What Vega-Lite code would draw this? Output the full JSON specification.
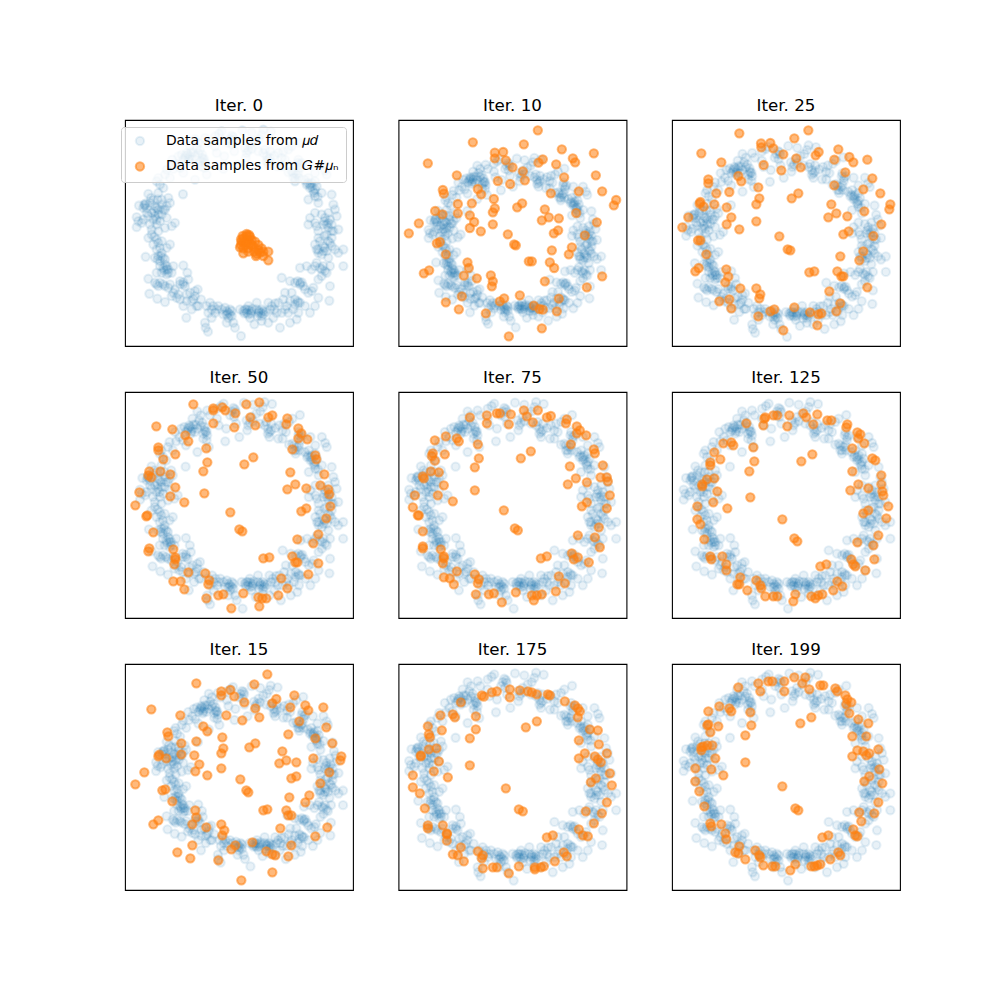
{"$schema":"https://vega.github.io/schema/vega-lite/v6.json","background":"white","padding":{"left":120,"top":97,"right":0,"bottom":0},"columns":3,"spacing":{"column":45.5,"row":46},"bounds":"flush","config":{"view":{"continuousWidth":228,"continuousHeight":226,"stroke":"black","strokeWidth":1.1},"font":"DejaVu Sans","title":{"fontSize":16.7,"fontWeight":"normal","font":"DejaVu Sans","offset":5,"color":"black"},"circle":{"size":69,"strokeWidth":2.08,"opacity":1,"clip":true},"legend":{"orient":"none","legendX":-4,"legendY":7,"title":null,"fillColor":"rgba(255,255,255,0.8)","strokeColor":"#cccccc","cornerRadius":3,"padding":7,"labelFont":"DejaVu Sans","labelFontSize":13.9,"labelColor":"black","labelLimit":400,"symbolSize":69,"symbolStrokeWidth":2.08,"symbolOffset":5,"labelOffset":19,"rowPadding":7.5,"zindex":1}},"datasets":{"mu_d":[{"x":382,"y":62},{"x":410,"y":68},{"x":445,"y":60},{"x":468,"y":66},{"x":440,"y":75},{"x":432,"y":88},{"x":320,"y":65},{"x":312,"y":72},{"x":300,"y":80},{"x":270,"y":85},{"x":278,"y":100},{"x":240,"y":88},{"x":250,"y":100},{"x":225,"y":110},{"x":355,"y":82},{"x":357,"y":90},{"x":352,"y":105},{"x":340,"y":100},{"x":405,"y":105},{"x":400,"y":122},{"x":390,"y":115},{"x":420,"y":95},{"x":450,"y":120},{"x":465,"y":125},{"x":460,"y":150},{"x":455,"y":140},{"x":445,"y":130},{"x":478,"y":138},{"x":490,"y":130},{"x":510,"y":150},{"x":500,"y":170},{"x":487,"y":170},{"x":460,"y":165},{"x":520,"y":120},{"x":530,"y":110},{"x":553,"y":99},{"x":392,"y":145},{"x":368,"y":165},{"x":358,"y":125},{"x":328,"y":140},{"x":325,"y":178},{"x":305,"y":130},{"x":300,"y":110},{"x":215,"y":130},{"x":225,"y":140},{"x":210,"y":145},{"x":235,"y":128},{"x":200,"y":135},{"x":190,"y":140},{"x":220,"y":155},{"x":172,"y":150},{"x":185,"y":165},{"x":195,"y":175},{"x":205,"y":190},{"x":175,"y":178},{"x":265,"y":150},{"x":270,"y":160},{"x":258,"y":170},{"x":250,"y":130},{"x":255,"y":122},{"x":262,"y":145},{"x":268,"y":175},{"x":240,"y":210},{"x":275,"y":195},{"x":155,"y":180},{"x":150,"y":195},{"x":130,"y":205},{"x":125,"y":215},{"x":135,"y":225},{"x":145,"y":235},{"x":165,"y":205},{"x":204,"y":254},{"x":130,"y":250},{"x":100,"y":253},{"x":108,"y":265},{"x":115,"y":272},{"x":90,"y":288},{"x":72,"y":288},{"x":88,"y":285},{"x":95,"y":295},{"x":128,"y":270},{"x":140,"y":285},{"x":150,"y":300},{"x":160,"y":265},{"x":165,"y":280},{"x":125,"y":295},{"x":110,"y":310},{"x":120,"y":320},{"x":140,"y":315},{"x":155,"y":325},{"x":100,"y":320},{"x":85,"y":330},{"x":65,"y":323},{"x":65,"y":353},{"x":80,"y":340},{"x":105,"y":345},{"x":125,"y":345},{"x":135,"y":335},{"x":150,"y":355},{"x":170,"y":350},{"x":180,"y":340},{"x":130,"y":365},{"x":110,"y":375},{"x":100,"y":385},{"x":125,"y":390},{"x":140,"y":395},{"x":165,"y":405},{"x":155,"y":415},{"x":135,"y":415},{"x":92,"y":442},{"x":125,"y":420},{"x":140,"y":430},{"x":130,"y":440},{"x":145,"y":445},{"x":120,"y":445},{"x":135,"y":455},{"x":150,"y":465},{"x":175,"y":470},{"x":205,"y":468},{"x":155,"y":480},{"x":160,"y":490},{"x":145,"y":475},{"x":140,"y":490},{"x":125,"y":490},{"x":217,"y":490},{"x":100,"y":508},{"x":125,"y":525},{"x":135,"y":520},{"x":150,"y":530},{"x":165,"y":525},{"x":195,"y":515},{"x":205,"y":518},{"x":220,"y":510},{"x":210,"y":530},{"x":180,"y":540},{"x":190,"y":555},{"x":103,"y":553},{"x":127,"y":568},{"x":150,"y":578},{"x":170,"y":560},{"x":195,"y":570},{"x":240,"y":545},{"x":248,"y":540},{"x":225,"y":550},{"x":215,"y":575},{"x":205,"y":590},{"x":214,"y":625},{"x":230,"y":600},{"x":245,"y":590},{"x":235,"y":570},{"x":258,"y":570},{"x":275,"y":590},{"x":285,"y":580},{"x":310,"y":590},{"x":300,"y":610},{"x":290,"y":625},{"x":320,"y":600},{"x":330,"y":595},{"x":335,"y":615},{"x":345,"y":600},{"x":340,"y":625},{"x":355,"y":640},{"x":335,"y":640},{"x":360,"y":655},{"x":272,"y":655},{"x":279,"y":667},{"x":270,"y":640},{"x":280,"y":610},{"x":378,"y":680},{"x":375,"y":600},{"x":385,"y":605},{"x":400,"y":590},{"x":395,"y":610},{"x":410,"y":605},{"x":405,"y":625},{"x":418,"y":645},{"x":430,"y":610},{"x":440,"y":600},{"x":445,"y":615},{"x":460,"y":580},{"x":440,"y":635},{"x":460,"y":640},{"x":475,"y":625},{"x":495,"y":655},{"x":485,"y":610},{"x":465,"y":600},{"x":425,"y":580},{"x":490,"y":580},{"x":515,"y":590},{"x":505,"y":570},{"x":525,"y":575},{"x":540,"y":570},{"x":550,"y":580},{"x":535,"y":600},{"x":550,"y":610},{"x":570,"y":590},{"x":545,"y":630},{"x":525,"y":640},{"x":500,"y":610},{"x":500,"y":505},{"x":525,"y":515},{"x":540,"y":520},{"x":555,"y":520},{"x":565,"y":530},{"x":580,"y":550},{"x":530,"y":550},{"x":510,"y":550},{"x":595,"y":535},{"x":610,"y":565},{"x":643,"y":574},{"x":600,"y":590},{"x":585,"y":610},{"x":645,"y":530},{"x":555,"y":475},{"x":575,"y":470},{"x":590,"y":480},{"x":615,"y":475},{"x":635,"y":490},{"x":685,"y":470},{"x":605,"y":460},{"x":620,"y":500},{"x":610,"y":510},{"x":625,"y":470},{"x":610,"y":430},{"x":605,"y":420},{"x":620,"y":435},{"x":635,"y":425},{"x":650,"y":410},{"x":660,"y":420},{"x":670,"y":430},{"x":685,"y":420},{"x":640,"y":445},{"x":645,"y":470},{"x":625,"y":410},{"x":615,"y":395},{"x":600,"y":405},{"x":640,"y":395},{"x":650,"y":385},{"x":635,"y":375},{"x":655,"y":365},{"x":670,"y":360},{"x":610,"y":365},{"x":625,"y":345},{"x":640,"y":340},{"x":650,"y":345},{"x":620,"y":315},{"x":630,"y":325},{"x":640,"y":310},{"x":660,"y":300},{"x":665,"y":320},{"x":655,"y":285},{"x":605,"y":350},{"x":600,"y":340},{"x":580,"y":345},{"x":585,"y":325},{"x":600,"y":310},{"x":610,"y":280},{"x":650,"y":255},{"x":600,"y":260},{"x":595,"y":245},{"x":585,"y":235},{"x":575,"y":225},{"x":590,"y":220},{"x":605,"y":230},{"x":620,"y":250},{"x":580,"y":270},{"x":540,"y":215},{"x":535,"y":205},{"x":550,"y":190},{"x":555,"y":175},{"x":560,"y":160},{"x":550,"y":150},{"x":530,"y":185},{"x":520,"y":188},{"x":635,"y":195},{"x":630,"y":183},{"x":600,"y":190},{"x":620,"y":165},{"x":585,"y":165},{"x":580,"y":205},{"x":568,"y":210},{"x":600,"y":215},{"x":218,"y":135},{"x":228,"y":128},{"x":212,"y":138},{"x":222,"y":148},{"x":232,"y":150},{"x":205,"y":150},{"x":240,"y":140},{"x":245,"y":115},{"x":262,"y":135},{"x":268,"y":148},{"x":258,"y":155},{"x":345,"y":88},{"x":350,"y":78},{"x":410,"y":118},{"x":395,"y":130},{"x":455,"y":155},{"x":465,"y":145},{"x":430,"y":125},{"x":500,"y":145},{"x":505,"y":125},{"x":92,"y":282},{"x":85,"y":295},{"x":105,"y":280},{"x":120,"y":290},{"x":130,"y":300},{"x":118,"y":305},{"x":130,"y":315},{"x":145,"y":300},{"x":115,"y":330},{"x":125,"y":330},{"x":140,"y":270},{"x":155,"y":290},{"x":95,"y":310},{"x":70,"y":335},{"x":110,"y":360},{"x":118,"y":382},{"x":130,"y":400},{"x":115,"y":405},{"x":138,"y":440},{"x":150,"y":450},{"x":128,"y":450},{"x":155,"y":470},{"x":148,"y":482},{"x":160,"y":480},{"x":155,"y":495},{"x":170,"y":490},{"x":135,"y":470},{"x":130,"y":530},{"x":120,"y":520},{"x":145,"y":525},{"x":160,"y":535},{"x":195,"y":525},{"x":205,"y":525},{"x":175,"y":550},{"x":185,"y":565},{"x":215,"y":555},{"x":240,"y":560},{"x":230,"y":575},{"x":250,"y":590},{"x":290,"y":600},{"x":295,"y":590},{"x":305,"y":600},{"x":340,"y":610},{"x":345,"y":615},{"x":350,"y":620},{"x":335,"y":605},{"x":325,"y":615},{"x":350,"y":605},{"x":390,"y":600},{"x":395,"y":600},{"x":402,"y":602},{"x":408,"y":612},{"x":412,"y":598},{"x":400,"y":615},{"x":388,"y":612},{"x":425,"y":600},{"x":432,"y":605},{"x":438,"y":610},{"x":445,"y":605},{"x":452,"y":608},{"x":440,"y":620},{"x":428,"y":620},{"x":470,"y":590},{"x":478,"y":600},{"x":480,"y":582},{"x":510,"y":600},{"x":520,"y":610},{"x":540,"y":585},{"x":548,"y":575},{"x":555,"y":580},{"x":555,"y":525},{"x":560,"y":518},{"x":548,"y":515},{"x":570,"y":540},{"x":590,"y":545},{"x":600,"y":470},{"x":630,"y":485},{"x":620,"y":480},{"x":610,"y":420},{"x":625,"y":425},{"x":630,"y":415},{"x":645,"y":400},{"x":628,"y":380},{"x":640,"y":355},{"x":635,"y":345},{"x":645,"y":330},{"x":628,"y":335},{"x":650,"y":365},{"x":610,"y":385},{"x":578,"y":220},{"x":585,"y":225},{"x":590,"y":232},{"x":600,"y":240},{"x":598,"y":250},{"x":608,"y":262},{"x":545,"y":195},{"x":552,"y":205},{"x":548,"y":160},{"x":555,"y":165},{"x":535,"y":190},{"x":540,"y":205}],"iter0":[{"x":395,"y":378},{"x":385,"y":385},{"x":405,"y":380},{"x":380,"y":395},{"x":395,"y":395},{"x":410,"y":390},{"x":378,"y":405},{"x":390,"y":405},{"x":405,"y":400},{"x":420,"y":395},{"x":430,"y":405},{"x":415,"y":410},{"x":400,"y":415},{"x":385,"y":415},{"x":430,"y":420},{"x":440,"y":415},{"x":445,"y":425},{"x":385,"y":430},{"x":400,"y":425},{"x":425,"y":432},{"x":460,"y":425},{"x":423,"y":438},{"x":445,"y":438},{"x":460,"y":451},{"x":410,"y":405},{"x":398,"y":388},{"x":388,"y":398},{"x":375,"y":412},{"x":435,"y":428},{"x":418,"y":425},{"x":395,"y":372},{"x":402,"y":375},{"x":383,"y":378},{"x":378,"y":388}],"iter10":[{"x":448,"y":61},{"x":253,"y":97},{"x":406,"y":103},{"x":520,"y":118},{"x":319,"y":128},{"x":344,"y":126},{"x":319,"y":145},{"x":553,"y":145},{"x":616,"y":130},{"x":118,"y":160},{"x":352,"y":151},{"x":463,"y":148},{"x":450,"y":158},{"x":560,"y":157},{"x":503,"y":163},{"x":372,"y":172},{"x":403,"y":184},{"x":205,"y":196},{"x":622,"y":196},{"x":527,"y":202},{"x":328,"y":213},{"x":409,"y":211},{"x":365,"y":222},{"x":163,"y":240},{"x":166,"y":251},{"x":268,"y":237},{"x":278,"y":253},{"x":571,"y":244},{"x":641,"y":244},{"x":487,"y":250},{"x":316,"y":267},{"x":683,"y":270},{"x":676,"y":286},{"x":208,"y":282},{"x":250,"y":280},{"x":401,"y":280},{"x":386,"y":292},{"x":319,"y":295},{"x":313,"y":307},{"x":469,"y":298},{"x":140,"y":303},{"x":208,"y":310},{"x":162,"y":313},{"x":563,"y":309},{"x":244,"y":316},{"x":257,"y":336},{"x":481,"y":322},{"x":511,"y":325},{"x":460,"y":331},{"x":625,"y":337},{"x":91,"y":340},{"x":313,"y":343},{"x":244,"y":354},{"x":277,"y":364},{"x":509,"y":361},{"x":496,"y":370},{"x":61,"y":370},{"x":358,"y":373},{"x":589,"y":376},{"x":154,"y":396},{"x":145,"y":400},{"x":377,"y":403},{"x":382,"y":406},{"x":550,"y":412},{"x":490,"y":421},{"x":541,"y":433},{"x":172,"y":433},{"x":421,"y":454},{"x":430,"y":454},{"x":484,"y":457},{"x":237,"y":457},{"x":241,"y":474},{"x":497,"y":474},{"x":122,"y":481},{"x":106,"y":490},{"x":307,"y":496},{"x":226,"y":497},{"x":641,"y":499},{"x":265,"y":505},{"x":313,"y":514},{"x":469,"y":514},{"x":310,"y":529},{"x":595,"y":532},{"x":394,"y":556},{"x":220,"y":559},{"x":347,"y":565},{"x":511,"y":566},{"x":334,"y":574},{"x":172,"y":577},{"x":436,"y":587},{"x":211,"y":598},{"x":453,"y":597},{"x":463,"y":599},{"x":505,"y":604},{"x":292,"y":610},{"x":460,"y":655},{"x":361,"y":679}],"iter25":[{"x":439,"y":61},{"x":232,"y":70},{"x":397,"y":85},{"x":297,"y":100},{"x":325,"y":99},{"x":298,"y":112},{"x":334,"y":115},{"x":529,"y":118},{"x":118,"y":130},{"x":470,"y":126},{"x":461,"y":136},{"x":364,"y":133},{"x":403,"y":145},{"x":562,"y":141},{"x":517,"y":149},{"x":616,"y":149},{"x":574,"y":157},{"x":178,"y":157},{"x":305,"y":165},{"x":416,"y":172},{"x":358,"y":181},{"x":550,"y":187},{"x":229,"y":198},{"x":139,"y":208},{"x":631,"y":205},{"x":238,"y":214},{"x":139,"y":220},{"x":517,"y":226},{"x":289,"y":232},{"x":604,"y":238},{"x":202,"y":246},{"x":163,"y":250},{"x":409,"y":250},{"x":655,"y":250},{"x":389,"y":265},{"x":292,"y":265},{"x":283,"y":283},{"x":115,"y":276},{"x":113,"y":281},{"x":125,"y":290},{"x":157,"y":283},{"x":194,"y":292},{"x":508,"y":283},{"x":685,"y":283},{"x":682,"y":298},{"x":607,"y":304},{"x":523,"y":310},{"x":556,"y":319},{"x":499,"y":322},{"x":79,"y":322},{"x":208,"y":322},{"x":283,"y":334},{"x":194,"y":343},{"x":658,"y":343},{"x":61,"y":352},{"x":232,"y":358},{"x":560,"y":364},{"x":544,"y":373},{"x":634,"y":378},{"x":352,"y":379},{"x":108,"y":391},{"x":115,"y":391},{"x":377,"y":418},{"x":385,"y":421},{"x":604,"y":424},{"x":133,"y":433},{"x":535,"y":439},{"x":592,"y":451},{"x":110,"y":474},{"x":100,"y":484},{"x":193,"y":478},{"x":442,"y":487},{"x":457,"y":484},{"x":526,"y":484},{"x":199,"y":500},{"x":538,"y":499},{"x":544,"y":499},{"x":190,"y":517},{"x":616,"y":532},{"x":235,"y":535},{"x":283,"y":535},{"x":502,"y":544},{"x":295,"y":553},{"x":292,"y":565},{"x":172,"y":574},{"x":202,"y":568},{"x":535,"y":580},{"x":208,"y":595},{"x":397,"y":592},{"x":337,"y":598},{"x":325,"y":604},{"x":444,"y":607},{"x":523,"y":604},{"x":478,"y":610},{"x":469,"y":613},{"x":289,"y":619},{"x":466,"y":646},{"x":364,"y":661}],"iter50":[{"x":433,"y":61},{"x":235,"y":67},{"x":394,"y":67},{"x":322,"y":76},{"x":295,"y":79},{"x":295,"y":85},{"x":331,"y":85},{"x":361,"y":94},{"x":406,"y":106},{"x":472,"y":100},{"x":460,"y":106},{"x":517,"y":109},{"x":124,"y":133},{"x":514,"y":127},{"x":295,"y":124},{"x":358,"y":136},{"x":421,"y":130},{"x":172,"y":142},{"x":550,"y":139},{"x":559,"y":154},{"x":211,"y":160},{"x":220,"y":178},{"x":550,"y":169},{"x":577,"y":172},{"x":130,"y":196},{"x":130,"y":205},{"x":274,"y":199},{"x":532,"y":202},{"x":181,"y":217},{"x":601,"y":220},{"x":604,"y":232},{"x":145,"y":232},{"x":415,"y":226},{"x":277,"y":241},{"x":388,"y":247},{"x":265,"y":268},{"x":526,"y":271},{"x":136,"y":268},{"x":103,"y":268},{"x":100,"y":280},{"x":109,"y":286},{"x":166,"y":277},{"x":628,"y":277},{"x":541,"y":307},{"x":616,"y":310},{"x":574,"y":319},{"x":517,"y":322},{"x":181,"y":316},{"x":640,"y":322},{"x":643,"y":337},{"x":73,"y":331},{"x":268,"y":334},{"x":166,"y":343},{"x":208,"y":361},{"x":61,"y":370},{"x":646,"y":373},{"x":574,"y":379},{"x":559,"y":388},{"x":346,"y":391},{"x":97,"y":400},{"x":94,"y":403},{"x":634,"y":409},{"x":373,"y":442},{"x":382,"y":448},{"x":115,"y":451},{"x":610,"y":457},{"x":547,"y":472},{"x":595,"y":484},{"x":103,"y":499},{"x":100,"y":508},{"x":175,"y":502},{"x":181,"y":526},{"x":181,"y":532},{"x":463,"y":526},{"x":445,"y":529},{"x":532,"y":523},{"x":547,"y":541},{"x":541,"y":541},{"x":178,"y":547},{"x":610,"y":544},{"x":220,"y":571},{"x":271,"y":574},{"x":580,"y":577},{"x":499,"y":589},{"x":175,"y":598},{"x":197,"y":598},{"x":283,"y":595},{"x":280,"y":607},{"x":208,"y":622},{"x":517,"y":619},{"x":385,"y":634},{"x":325,"y":637},{"x":310,"y":640},{"x":490,"y":640},{"x":430,"y":646},{"x":442,"y":649},{"x":454,"y":649},{"x":274,"y":649},{"x":433,"y":673},{"x":349,"y":679}],"iter75":[{"x":448,"y":85},{"x":406,"y":85},{"x":367,"y":97},{"x":325,"y":94},{"x":334,"y":94},{"x":295,"y":100},{"x":295,"y":124},{"x":244,"y":106},{"x":415,"y":103},{"x":487,"y":102},{"x":475,"y":106},{"x":535,"y":112},{"x":433,"y":121},{"x":532,"y":124},{"x":361,"y":127},{"x":565,"y":133},{"x":574,"y":145},{"x":565,"y":154},{"x":172,"y":163},{"x":139,"y":175},{"x":205,"y":169},{"x":211,"y":178},{"x":593,"y":160},{"x":268,"y":187},{"x":547,"y":187},{"x":616,"y":202},{"x":619,"y":214},{"x":427,"y":208},{"x":133,"y":214},{"x":130,"y":222},{"x":169,"y":217},{"x":139,"y":236},{"x":271,"y":229},{"x":397,"y":229},{"x":643,"y":250},{"x":544,"y":253},{"x":259,"y":256},{"x":127,"y":268},{"x":151,"y":271},{"x":103,"y":283},{"x":106,"y":289},{"x":636,"y":286},{"x":655,"y":286},{"x":562,"y":289},{"x":658,"y":298},{"x":595,"y":301},{"x":538,"y":307},{"x":166,"y":310},{"x":259,"y":325},{"x":79,"y":340},{"x":148,"y":340},{"x":664,"y":340},{"x":193,"y":358},{"x":595,"y":361},{"x":580,"y":373},{"x":73,"y":376},{"x":655,"y":379},{"x":346,"y":385},{"x":88,"y":400},{"x":91,"y":400},{"x":631,"y":436},{"x":379,"y":439},{"x":388,"y":445},{"x":103,"y":448},{"x":568,"y":460},{"x":619,"y":466},{"x":103,"y":493},{"x":103,"y":499},{"x":157,"y":502},{"x":634,"y":496},{"x":166,"y":523},{"x":166,"y":529},{"x":550,"y":514},{"x":475,"y":523},{"x":457,"y":529},{"x":556,"y":532},{"x":568,"y":526},{"x":163,"y":544},{"x":601,"y":541},{"x":205,"y":568},{"x":259,"y":577},{"x":166,"y":586},{"x":184,"y":589},{"x":511,"y":583},{"x":271,"y":592},{"x":268,"y":604},{"x":196,"y":607},{"x":529,"y":604},{"x":382,"y":631},{"x":502,"y":628},{"x":316,"y":634},{"x":301,"y":637},{"x":262,"y":637},{"x":460,"y":637},{"x":430,"y":640},{"x":445,"y":640},{"x":436,"y":655},{"x":340,"y":661}],"iter125":[{"x":424,"y":94},{"x":466,"y":97},{"x":382,"y":100},{"x":334,"y":100},{"x":346,"y":100},{"x":310,"y":106},{"x":307,"y":110},{"x":433,"y":106},{"x":496,"y":115},{"x":508,"y":115},{"x":253,"y":124},{"x":304,"y":130},{"x":454,"y":127},{"x":376,"y":133},{"x":556,"y":127},{"x":553,"y":136},{"x":586,"y":151},{"x":595,"y":157},{"x":589,"y":169},{"x":184,"y":184},{"x":208,"y":181},{"x":214,"y":190},{"x":607,"y":184},{"x":571,"y":199},{"x":157,"y":211},{"x":451,"y":217},{"x":631,"y":229},{"x":640,"y":235},{"x":175,"y":232},{"x":145,"y":241},{"x":145,"y":250},{"x":418,"y":238},{"x":277,"y":238},{"x":274,"y":196},{"x":262,"y":268},{"x":571,"y":268},{"x":658,"y":280},{"x":157,"y":289},{"x":135,"y":292},{"x":658,"y":307},{"x":121,"y":307},{"x":121,"y":313},{"x":589,"y":307},{"x":166,"y":328},{"x":619,"y":319},{"x":565,"y":325},{"x":661,"y":328},{"x":664,"y":340},{"x":265,"y":346},{"x":154,"y":361},{"x":106,"y":373},{"x":679,"y":373},{"x":196,"y":379},{"x":619,"y":385},{"x":604,"y":394},{"x":106,"y":412},{"x":361,"y":412},{"x":673,"y":409},{"x":115,"y":427},{"x":397,"y":469},{"x":406,"y":478},{"x":127,"y":472},{"x":649,"y":460},{"x":586,"y":481},{"x":634,"y":490},{"x":145,"y":523},{"x":148,"y":532},{"x":181,"y":523},{"x":568,"y":532},{"x":637,"y":532},{"x":193,"y":547},{"x":193,"y":565},{"x":475,"y":553},{"x":493,"y":547},{"x":574,"y":547},{"x":580,"y":553},{"x":610,"y":565},{"x":235,"y":586},{"x":283,"y":595},{"x":526,"y":598},{"x":226,"y":607},{"x":232,"y":607},{"x":295,"y":610},{"x":298,"y":619},{"x":541,"y":613},{"x":256,"y":625},{"x":514,"y":625},{"x":400,"y":637},{"x":310,"y":643},{"x":334,"y":643},{"x":346,"y":643},{"x":448,"y":643},{"x":460,"y":649},{"x":469,"y":640},{"x":481,"y":637},{"x":394,"y":658}],"iter15":[{"x":457,"y":61},{"x":244,"y":88},{"x":418,"y":91},{"x":346,"y":108},{"x":319,"y":112},{"x":319,"y":124},{"x":358,"y":127},{"x":538,"y":124},{"x":484,"y":135},{"x":472,"y":148},{"x":388,"y":145},{"x":109,"y":166},{"x":421,"y":163},{"x":526,"y":160},{"x":571,"y":154},{"x":625,"y":160},{"x":580,"y":169},{"x":196,"y":184},{"x":334,"y":184},{"x":433,"y":190},{"x":382,"y":199},{"x":553,"y":202},{"x":265,"y":217},{"x":634,"y":220},{"x":277,"y":232},{"x":157,"y":235},{"x":160,"y":247},{"x":520,"y":241},{"x":322,"y":250},{"x":601,"y":253},{"x":199,"y":268},{"x":244,"y":262},{"x":652,"y":268},{"x":421,"y":268},{"x":403,"y":280},{"x":325,"y":283},{"x":319,"y":298},{"x":238,"y":304},{"x":133,"y":302},{"x":130,"y":307},{"x":154,"y":313},{"x":199,"y":301},{"x":502,"y":292},{"x":679,"y":307},{"x":676,"y":319},{"x":595,"y":313},{"x":514,"y":319},{"x":544,"y":325},{"x":493,"y":328},{"x":253,"y":331},{"x":319,"y":343},{"x":241,"y":352},{"x":88,"y":355},{"x":643,"y":355},{"x":277,"y":364},{"x":544,"y":367},{"x":529,"y":373},{"x":376,"y":376},{"x":616,"y":388},{"x":61,"y":391},{"x":151,"y":406},{"x":142,"y":409},{"x":394,"y":409},{"x":400,"y":415},{"x":583,"y":424},{"x":523,"y":430},{"x":571,"y":445},{"x":172,"y":442},{"x":457,"y":466},{"x":445,"y":469},{"x":241,"y":469},{"x":514,"y":469},{"x":244,"y":490},{"x":520,"y":484},{"x":529,"y":484},{"x":130,"y":499},{"x":115,"y":511},{"x":232,"y":511},{"x":319,"y":511},{"x":274,"y":520},{"x":328,"y":529},{"x":496,"y":523},{"x":637,"y":520},{"x":322,"y":544},{"x":601,"y":547},{"x":412,"y":565},{"x":232,"y":574},{"x":529,"y":574},{"x":361,"y":574},{"x":349,"y":586},{"x":187,"y":595},{"x":454,"y":592},{"x":472,"y":601},{"x":481,"y":604},{"x":520,"y":607},{"x":226,"y":613},{"x":310,"y":619},{"x":472,"y":655},{"x":379,"y":679}],"iter175":[{"x":364,"y":106},{"x":394,"y":109},{"x":418,"y":112},{"x":430,"y":115},{"x":325,"y":112},{"x":310,"y":115},{"x":280,"y":124},{"x":286,"y":128},{"x":445,"y":121},{"x":478,"y":121},{"x":484,"y":124},{"x":364,"y":130},{"x":529,"y":142},{"x":217,"y":145},{"x":559,"y":154},{"x":568,"y":163},{"x":574,"y":172},{"x":568,"y":190},{"x":156,"y":184},{"x":193,"y":181},{"x":199,"y":190},{"x":262,"y":187},{"x":445,"y":202},{"x":412,"y":220},{"x":604,"y":226},{"x":628,"y":229},{"x":118,"y":217},{"x":262,"y":226},{"x":160,"y":229},{"x":121,"y":241},{"x":124,"y":250},{"x":244,"y":253},{"x":571,"y":259},{"x":631,"y":271},{"x":144,"y":283},{"x":121,"y":286},{"x":97,"y":304},{"x":97,"y":307},{"x":589,"y":298},{"x":655,"y":298},{"x":619,"y":307},{"x":571,"y":313},{"x":628,"y":316},{"x":637,"y":325},{"x":151,"y":322},{"x":244,"y":334},{"x":136,"y":352},{"x":664,"y":358},{"x":73,"y":364},{"x":178,"y":370},{"x":622,"y":373},{"x":607,"y":385},{"x":670,"y":394},{"x":352,"y":403},{"x":73,"y":400},{"x":94,"y":418},{"x":655,"y":445},{"x":391,"y":466},{"x":403,"y":472},{"x":109,"y":463},{"x":592,"y":472},{"x":640,"y":478},{"x":616,"y":508},{"x":118,"y":514},{"x":118,"y":523},{"x":163,"y":514},{"x":571,"y":526},{"x":175,"y":538},{"x":175,"y":541},{"x":583,"y":544},{"x":598,"y":547},{"x":493,"y":544},{"x":475,"y":550},{"x":175,"y":560},{"x":217,"y":580},{"x":268,"y":592},{"x":526,"y":595},{"x":193,"y":601},{"x":208,"y":604},{"x":535,"y":607},{"x":283,"y":604},{"x":280,"y":613},{"x":226,"y":622},{"x":499,"y":622},{"x":391,"y":637},{"x":283,"y":643},{"x":313,"y":640},{"x":325,"y":640},{"x":439,"y":640},{"x":466,"y":637},{"x":457,"y":640},{"x":439,"y":646},{"x":361,"y":658}],"iter199":[{"x":397,"y":70},{"x":430,"y":70},{"x":319,"y":82},{"x":331,"y":82},{"x":367,"y":82},{"x":289,"y":88},{"x":421,"y":88},{"x":475,"y":94},{"x":484,"y":94},{"x":229,"y":100},{"x":442,"y":106},{"x":520,"y":103},{"x":295,"y":112},{"x":367,"y":112},{"x":526,"y":112},{"x":550,"y":124},{"x":556,"y":136},{"x":568,"y":145},{"x":553,"y":151},{"x":172,"y":157},{"x":139,"y":172},{"x":202,"y":163},{"x":208,"y":172},{"x":265,"y":175},{"x":562,"y":178},{"x":448,"y":190},{"x":589,"y":196},{"x":415,"y":208},{"x":619,"y":208},{"x":136,"y":214},{"x":139,"y":211},{"x":169,"y":217},{"x":268,"y":214},{"x":145,"y":235},{"x":250,"y":244},{"x":571,"y":247},{"x":613,"y":247},{"x":151,"y":274},{"x":136,"y":274},{"x":118,"y":280},{"x":118,"y":289},{"x":124,"y":277},{"x":649,"y":286},{"x":586,"y":289},{"x":604,"y":292},{"x":622,"y":298},{"x":613,"y":304},{"x":571,"y":307},{"x":160,"y":313},{"x":250,"y":325},{"x":100,"y":343},{"x":148,"y":346},{"x":652,"y":346},{"x":184,"y":364},{"x":622,"y":367},{"x":607,"y":382},{"x":100,"y":382},{"x":661,"y":388},{"x":361,"y":397},{"x":112,"y":412},{"x":649,"y":445},{"x":127,"y":457},{"x":400,"y":463},{"x":409,"y":469},{"x":592,"y":475},{"x":637,"y":478},{"x":598,"y":502},{"x":145,"y":508},{"x":148,"y":517},{"x":178,"y":511},{"x":574,"y":526},{"x":190,"y":538},{"x":580,"y":544},{"x":586,"y":547},{"x":499,"y":544},{"x":481,"y":550},{"x":193,"y":556},{"x":232,"y":577},{"x":280,"y":589},{"x":529,"y":595},{"x":220,"y":595},{"x":229,"y":598},{"x":292,"y":604},{"x":295,"y":610},{"x":535,"y":604},{"x":250,"y":616},{"x":505,"y":616},{"x":304,"y":634},{"x":400,"y":631},{"x":331,"y":637},{"x":340,"y":637},{"x":448,"y":637},{"x":457,"y":637},{"x":466,"y":634},{"x":475,"y":631},{"x":385,"y":649}]},"concat":[
{"title":"Iter. 0","resolve":{"scale":{"x":"independent","y":"independent"}},"layer":[{"data":{"name":"mu_d"},"mark":"circle","encoding":{"x":{"field":"x","type":"quantitative","axis":null,"scale":{"domain":[30,714],"nice":false,"zero":false}},"y":{"field":"y","type":"quantitative","axis":null,"scale":{"domain":[710,31],"nice":false,"zero":false}},"fill":{"datum":"Data samples from 𝜇𝑑","scale":{"domain":["Data samples from 𝜇𝑑","Data samples from 𝐺#𝜇ₙ"],"range":["rgba(31,119,180,0.1)","rgba(255,127,14,0.55)"]}},"stroke":{"datum":"Data samples from 𝜇𝑑","scale":{"domain":["Data samples from 𝜇𝑑","Data samples from 𝐺#𝜇ₙ"],"range":["rgba(31,119,180,0.1)","rgba(255,127,14,0.55)"]}}}},{"data":{"name":"iter0"},"mark":"circle","encoding":{"x":{"field":"x","type":"quantitative","axis":null,"scale":{"domain":[30,714],"nice":false,"zero":false}},"y":{"field":"y","type":"quantitative","axis":null,"scale":{"domain":[708,30],"nice":false,"zero":false}},"fill":{"datum":"Data samples from 𝐺#𝜇ₙ","scale":{"domain":["Data samples from 𝜇𝑑","Data samples from 𝐺#𝜇ₙ"],"range":["rgba(31,119,180,0.1)","rgba(255,127,14,0.55)"]}},"stroke":{"datum":"Data samples from 𝐺#𝜇ₙ","scale":{"domain":["Data samples from 𝜇𝑑","Data samples from 𝐺#𝜇ₙ"],"range":["rgba(31,119,180,0.1)","rgba(255,127,14,0.55)"]}}}}]},
{"title":"Iter. 10","resolve":{"scale":{"x":"independent","y":"independent"}},"layer":[{"data":{"name":"mu_d"},"mark":"circle","encoding":{"x":{"field":"x","type":"quantitative","axis":null,"scale":{"domain":[-43,776],"nice":false,"zero":false}},"y":{"field":"y","type":"quantitative","axis":null,"scale":{"domain":[748,-79],"nice":false,"zero":false}},"fill":{"datum":"Data samples from 𝜇𝑑","scale":{"domain":["Data samples from 𝜇𝑑","Data samples from 𝐺#𝜇ₙ"],"range":["rgba(31,119,180,0.1)","rgba(255,127,14,0.55)"]}},"stroke":{"datum":"Data samples from 𝜇𝑑","scale":{"domain":["Data samples from 𝜇𝑑","Data samples from 𝐺#𝜇ₙ"],"range":["rgba(31,119,180,0.1)","rgba(255,127,14,0.55)"]}}}},{"data":{"name":"iter10"},"mark":"circle","encoding":{"x":{"field":"x","type":"quantitative","axis":null,"scale":{"domain":[30,714],"nice":false,"zero":false}},"y":{"field":"y","type":"quantitative","axis":null,"scale":{"domain":[708,30],"nice":false,"zero":false}},"fill":{"datum":"Data samples from 𝐺#𝜇ₙ","scale":{"domain":["Data samples from 𝜇𝑑","Data samples from 𝐺#𝜇ₙ"],"range":["rgba(31,119,180,0.1)","rgba(255,127,14,0.55)"]}},"stroke":{"datum":"Data samples from 𝐺#𝜇ₙ","scale":{"domain":["Data samples from 𝜇𝑑","Data samples from 𝐺#𝜇ₙ"],"range":["rgba(31,119,180,0.1)","rgba(255,127,14,0.55)"]}}}}]},
{"title":"Iter. 25","resolve":{"scale":{"x":"independent","y":"independent"}},"layer":[{"data":{"name":"mu_d"},"mark":"circle","encoding":{"x":{"field":"x","type":"quantitative","axis":null,"scale":{"domain":[21,729],"nice":false,"zero":false}},"y":{"field":"y","type":"quantitative","axis":null,"scale":{"domain":[710,-22],"nice":false,"zero":false}},"fill":{"datum":"Data samples from 𝜇𝑑","scale":{"domain":["Data samples from 𝜇𝑑","Data samples from 𝐺#𝜇ₙ"],"range":["rgba(31,119,180,0.1)","rgba(255,127,14,0.55)"]}},"stroke":{"datum":"Data samples from 𝜇𝑑","scale":{"domain":["Data samples from 𝜇𝑑","Data samples from 𝐺#𝜇ₙ"],"range":["rgba(31,119,180,0.1)","rgba(255,127,14,0.55)"]}}}},{"data":{"name":"iter25"},"mark":"circle","encoding":{"x":{"field":"x","type":"quantitative","axis":null,"scale":{"domain":[30,714],"nice":false,"zero":false}},"y":{"field":"y","type":"quantitative","axis":null,"scale":{"domain":[708,30],"nice":false,"zero":false}},"fill":{"datum":"Data samples from 𝐺#𝜇ₙ","scale":{"domain":["Data samples from 𝜇𝑑","Data samples from 𝐺#𝜇ₙ"],"range":["rgba(31,119,180,0.1)","rgba(255,127,14,0.55)"]}},"stroke":{"datum":"Data samples from 𝐺#𝜇ₙ","scale":{"domain":["Data samples from 𝜇𝑑","Data samples from 𝐺#𝜇ₙ"],"range":["rgba(31,119,180,0.1)","rgba(255,127,14,0.55)"]}}}}]},
{"title":"Iter. 50","resolve":{"scale":{"x":"independent","y":"independent"}},"layer":[{"data":{"name":"mu_d"},"mark":"circle","encoding":{"x":{"field":"x","type":"quantitative","axis":null,"scale":{"domain":[19,715],"nice":false,"zero":false}},"y":{"field":"y","type":"quantitative","axis":null,"scale":{"domain":[708,30],"nice":false,"zero":false}},"fill":{"datum":"Data samples from 𝜇𝑑","scale":{"domain":["Data samples from 𝜇𝑑","Data samples from 𝐺#𝜇ₙ"],"range":["rgba(31,119,180,0.1)","rgba(255,127,14,0.55)"]}},"stroke":{"datum":"Data samples from 𝜇𝑑","scale":{"domain":["Data samples from 𝜇𝑑","Data samples from 𝐺#𝜇ₙ"],"range":["rgba(31,119,180,0.1)","rgba(255,127,14,0.55)"]}}}},{"data":{"name":"iter50"},"mark":"circle","encoding":{"x":{"field":"x","type":"quantitative","axis":null,"scale":{"domain":[30,714],"nice":false,"zero":false}},"y":{"field":"y","type":"quantitative","axis":null,"scale":{"domain":[708,30],"nice":false,"zero":false}},"fill":{"datum":"Data samples from 𝐺#𝜇ₙ","scale":{"domain":["Data samples from 𝜇𝑑","Data samples from 𝐺#𝜇ₙ"],"range":["rgba(31,119,180,0.1)","rgba(255,127,14,0.55)"]}},"stroke":{"datum":"Data samples from 𝐺#𝜇ₙ","scale":{"domain":["Data samples from 𝜇𝑑","Data samples from 𝐺#𝜇ₙ"],"range":["rgba(31,119,180,0.1)","rgba(255,127,14,0.55)"]}}}}]},
{"title":"Iter. 75","resolve":{"scale":{"x":"independent","y":"independent"}},"layer":[{"data":{"name":"mu_d"},"mark":"circle","encoding":{"x":{"field":"x","type":"quantitative","axis":null,"scale":{"domain":[33,716],"nice":false,"zero":false}},"y":{"field":"y","type":"quantitative","axis":null,"scale":{"domain":[708,30],"nice":false,"zero":false}},"fill":{"datum":"Data samples from 𝜇𝑑","scale":{"domain":["Data samples from 𝜇𝑑","Data samples from 𝐺#𝜇ₙ"],"range":["rgba(31,119,180,0.1)","rgba(255,127,14,0.55)"]}},"stroke":{"datum":"Data samples from 𝜇𝑑","scale":{"domain":["Data samples from 𝜇𝑑","Data samples from 𝐺#𝜇ₙ"],"range":["rgba(31,119,180,0.1)","rgba(255,127,14,0.55)"]}}}},{"data":{"name":"iter75"},"mark":"circle","encoding":{"x":{"field":"x","type":"quantitative","axis":null,"scale":{"domain":[30,714],"nice":false,"zero":false}},"y":{"field":"y","type":"quantitative","axis":null,"scale":{"domain":[708,30],"nice":false,"zero":false}},"fill":{"datum":"Data samples from 𝐺#𝜇ₙ","scale":{"domain":["Data samples from 𝜇𝑑","Data samples from 𝐺#𝜇ₙ"],"range":["rgba(31,119,180,0.1)","rgba(255,127,14,0.55)"]}},"stroke":{"datum":"Data samples from 𝐺#𝜇ₙ","scale":{"domain":["Data samples from 𝜇𝑑","Data samples from 𝐺#𝜇ₙ"],"range":["rgba(31,119,180,0.1)","rgba(255,127,14,0.55)"]}}}}]},
{"title":"Iter. 125","resolve":{"scale":{"x":"independent","y":"independent"}},"layer":[{"data":{"name":"mu_d"},"mark":"circle","encoding":{"x":{"field":"x","type":"quantitative","axis":null,"scale":{"domain":[30,714],"nice":false,"zero":false}},"y":{"field":"y","type":"quantitative","axis":null,"scale":{"domain":[708,30],"nice":false,"zero":false}},"fill":{"datum":"Data samples from 𝜇𝑑","scale":{"domain":["Data samples from 𝜇𝑑","Data samples from 𝐺#𝜇ₙ"],"range":["rgba(31,119,180,0.1)","rgba(255,127,14,0.55)"]}},"stroke":{"datum":"Data samples from 𝜇𝑑","scale":{"domain":["Data samples from 𝜇𝑑","Data samples from 𝐺#𝜇ₙ"],"range":["rgba(31,119,180,0.1)","rgba(255,127,14,0.55)"]}}}},{"data":{"name":"iter125"},"mark":"circle","encoding":{"x":{"field":"x","type":"quantitative","axis":null,"scale":{"domain":[30,714],"nice":false,"zero":false}},"y":{"field":"y","type":"quantitative","axis":null,"scale":{"domain":[708,30],"nice":false,"zero":false}},"fill":{"datum":"Data samples from 𝐺#𝜇ₙ","scale":{"domain":["Data samples from 𝜇𝑑","Data samples from 𝐺#𝜇ₙ"],"range":["rgba(31,119,180,0.1)","rgba(255,127,14,0.55)"]}},"stroke":{"datum":"Data samples from 𝐺#𝜇ₙ","scale":{"domain":["Data samples from 𝜇𝑑","Data samples from 𝐺#𝜇ₙ"],"range":["rgba(31,119,180,0.1)","rgba(255,127,14,0.55)"]}}}}]},
{"title":"Iter. 15","resolve":{"scale":{"x":"independent","y":"independent"}},"layer":[{"data":{"name":"mu_d"},"mark":"circle","encoding":{"x":{"field":"x","type":"quantitative","axis":null,"scale":{"domain":[-38,718],"nice":false,"zero":false}},"y":{"field":"y","type":"quantitative","axis":null,"scale":{"domain":[761,-14],"nice":false,"zero":false}},"fill":{"datum":"Data samples from 𝜇𝑑","scale":{"domain":["Data samples from 𝜇𝑑","Data samples from 𝐺#𝜇ₙ"],"range":["rgba(31,119,180,0.1)","rgba(255,127,14,0.55)"]}},"stroke":{"datum":"Data samples from 𝜇𝑑","scale":{"domain":["Data samples from 𝜇𝑑","Data samples from 𝐺#𝜇ₙ"],"range":["rgba(31,119,180,0.1)","rgba(255,127,14,0.55)"]}}}},{"data":{"name":"iter15"},"mark":"circle","encoding":{"x":{"field":"x","type":"quantitative","axis":null,"scale":{"domain":[30,714],"nice":false,"zero":false}},"y":{"field":"y","type":"quantitative","axis":null,"scale":{"domain":[708,30],"nice":false,"zero":false}},"fill":{"datum":"Data samples from 𝐺#𝜇ₙ","scale":{"domain":["Data samples from 𝜇𝑑","Data samples from 𝐺#𝜇ₙ"],"range":["rgba(31,119,180,0.1)","rgba(255,127,14,0.55)"]}},"stroke":{"datum":"Data samples from 𝐺#𝜇ₙ","scale":{"domain":["Data samples from 𝜇𝑑","Data samples from 𝐺#𝜇ₙ"],"range":["rgba(31,119,180,0.1)","rgba(255,127,14,0.55)"]}}}}]},
{"title":"Iter. 175","resolve":{"scale":{"x":"independent","y":"independent"}},"layer":[{"data":{"name":"mu_d"},"mark":"circle","encoding":{"x":{"field":"x","type":"quantitative","axis":null,"scale":{"domain":[33,716],"nice":false,"zero":false}},"y":{"field":"y","type":"quantitative","axis":null,"scale":{"domain":[708,34],"nice":false,"zero":false}},"fill":{"datum":"Data samples from 𝜇𝑑","scale":{"domain":["Data samples from 𝜇𝑑","Data samples from 𝐺#𝜇ₙ"],"range":["rgba(31,119,180,0.1)","rgba(255,127,14,0.55)"]}},"stroke":{"datum":"Data samples from 𝜇𝑑","scale":{"domain":["Data samples from 𝜇𝑑","Data samples from 𝐺#𝜇ₙ"],"range":["rgba(31,119,180,0.1)","rgba(255,127,14,0.55)"]}}}},{"data":{"name":"iter175"},"mark":"circle","encoding":{"x":{"field":"x","type":"quantitative","axis":null,"scale":{"domain":[30,714],"nice":false,"zero":false}},"y":{"field":"y","type":"quantitative","axis":null,"scale":{"domain":[708,30],"nice":false,"zero":false}},"fill":{"datum":"Data samples from 𝐺#𝜇ₙ","scale":{"domain":["Data samples from 𝜇𝑑","Data samples from 𝐺#𝜇ₙ"],"range":["rgba(31,119,180,0.1)","rgba(255,127,14,0.55)"]}},"stroke":{"datum":"Data samples from 𝐺#𝜇ₙ","scale":{"domain":["Data samples from 𝜇𝑑","Data samples from 𝐺#𝜇ₙ"],"range":["rgba(31,119,180,0.1)","rgba(255,127,14,0.55)"]}}}}]},
{"title":"Iter. 199","resolve":{"scale":{"x":"independent","y":"independent"}},"layer":[{"data":{"name":"mu_d"},"mark":"circle","encoding":{"x":{"field":"x","type":"quantitative","axis":null,"scale":{"domain":[30,714],"nice":false,"zero":false}},"y":{"field":"y","type":"quantitative","axis":null,"scale":{"domain":[708,34],"nice":false,"zero":false}},"fill":{"datum":"Data samples from 𝜇𝑑","scale":{"domain":["Data samples from 𝜇𝑑","Data samples from 𝐺#𝜇ₙ"],"range":["rgba(31,119,180,0.1)","rgba(255,127,14,0.55)"]}},"stroke":{"datum":"Data samples from 𝜇𝑑","scale":{"domain":["Data samples from 𝜇𝑑","Data samples from 𝐺#𝜇ₙ"],"range":["rgba(31,119,180,0.1)","rgba(255,127,14,0.55)"]}}}},{"data":{"name":"iter199"},"mark":"circle","encoding":{"x":{"field":"x","type":"quantitative","axis":null,"scale":{"domain":[30,714],"nice":false,"zero":false}},"y":{"field":"y","type":"quantitative","axis":null,"scale":{"domain":[708,30],"nice":false,"zero":false}},"fill":{"datum":"Data samples from 𝐺#𝜇ₙ","scale":{"domain":["Data samples from 𝜇𝑑","Data samples from 𝐺#𝜇ₙ"],"range":["rgba(31,119,180,0.1)","rgba(255,127,14,0.55)"]}},"stroke":{"datum":"Data samples from 𝐺#𝜇ₙ","scale":{"domain":["Data samples from 𝜇𝑑","Data samples from 𝐺#𝜇ₙ"],"range":["rgba(31,119,180,0.1)","rgba(255,127,14,0.55)"]}}}}]}
]}
